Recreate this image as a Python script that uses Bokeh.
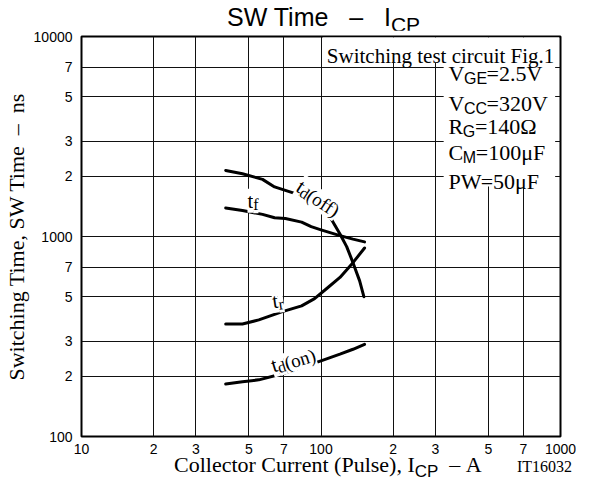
import math
from bokeh.plotting import figure
from bokeh.models import FixedTicker, Label, BoxAnnotation, Div
from bokeh.layouts import column
from bokeh.embed import file_html
from bokeh.resources import INLINE

# ---------------- data ----------------
td_off_x = [40, 47, 57, 64, 71, 83, 94, 101, 110, 120, 128, 136, 145, 151]
td_off_y = [2140, 2060, 1930, 1770, 1700, 1600, 1480, 1380, 1230, 1030, 890, 740, 600, 500]
tf_x = [40, 47, 57, 64, 71, 83, 91, 100, 120, 136, 152]
tf_y = [1390, 1350, 1290, 1240, 1230, 1180, 1120, 1080, 1010, 970, 940]
tr_x = [40, 47, 55, 69, 83, 94, 106, 120, 136, 152]
tr_y = [365, 365, 383, 421, 450, 489, 551, 624, 740, 876]
td_on_x = [40, 47, 55, 69, 83, 100, 120, 136, 152]
td_on_y = [183, 188, 192, 206, 222, 239, 258, 273, 289]

x_ticks = [10, 20, 30, 50, 70, 100, 200, 300, 500, 700, 1000]
x_tick_labels = ["10", "2", "3", "5", "7", "100", "2", "3", "5", "7", "1000"]
y_ticks = [100, 200, 300, 500, 700, 1000, 2000, 3000, 5000, 7000, 10000]
y_tick_labels = ["100", "2", "3", "5", "7", "1000", "2", "3", "5", "7", "10000"]

cond_main = ["V", "V", "R", "C", "PW"]
cond_sub = ["GE", "CC", "G", "M", ""]
cond_rest = ["=2.5V", "=320V", "=140Ω", "=100μF", "=50μF"]

title_main = "SW Time\u00a0\u00a0\u00a0–\u00a0\u00a0\u00a0I"
title_sub = "CP"
xlabel_main = "Collector Current (Pulse), I"
xlabel_sub = "CP"
xlabel_tail = "\u00a0\u00a0–\u00a0A"
fig_code = "IT16032"
ylabel = "Switching Time, SW Time\u00a0\u00a0–\u00a0\u00a0ns"

SERIF = "Liberation Serif"
SANS = "Liberation Sans"

# ---------------- figure ----------------
p = figure(width=576, height=428, x_axis_type="log", y_axis_type="log",
           x_range=(10, 1000), y_range=(100, 10000),
           output_backend="svg", toolbar_location=None,
           min_border_left=81, min_border_right=16,
           min_border_top=6, min_border_bottom=22)
p.background_fill_color = "white"
p.border_fill_color = "white"
p.outline_line_color = "black"
p.outline_line_width = 2

p.xaxis.ticker = FixedTicker(ticks=x_ticks)
p.yaxis.ticker = FixedTicker(ticks=y_ticks)
p.xgrid.ticker = FixedTicker(ticks=x_ticks)
p.ygrid.ticker = FixedTicker(ticks=y_ticks)
p.xaxis.major_label_overrides = dict(zip(x_ticks, x_tick_labels))
p.yaxis.major_label_overrides = dict(zip(y_ticks, y_tick_labels))
p.grid.grid_line_color = "#111111"
p.grid.grid_line_width = 1
p.axis.axis_line_color = None
p.axis.major_tick_line_color = None
p.axis.minor_tick_line_color = None
p.axis.major_tick_out = 0
p.axis.major_tick_in = 0
p.axis.minor_tick_out = 0
p.axis.minor_tick_in = 0
p.axis.major_label_text_font = SANS
p.axis.major_label_text_font_size = "14px"
p.axis.major_label_text_color = "black"
p.xaxis.major_label_standoff = 7
p.yaxis.major_label_standoff = 9

p.yaxis.axis_label = ylabel
p.yaxis.axis_label_text_font = SERIF
p.yaxis.axis_label_text_font_size = "22px"
p.yaxis.axis_label_text_font_style = "normal"
p.yaxis.axis_label_text_color = "black"
p.yaxis.axis_label_standoff = 2

for xs, ys in [(td_off_x, td_off_y), (tf_x, tf_y), (tr_x, tr_y), (td_on_x, td_on_y)]:
    p.line(xs, ys, line_color="black", line_width=3, line_join="round", line_cap="round")

# ---------------- helpers for text placement inside the frame ----------------
def dx(px):
    return 10 ** (1 + (px - 81) / 246)

def dy(py):
    return 10 ** (4 - (py - 36) / 204)

SERIF_W = {' ': 250, '(': 333, ')': 333, ',': 250, '.': 250, '=': 564, '–': 500, '-': 333,
           'A': 722, 'C': 667, 'F': 556, 'G': 722, 'I': 333, 'M': 889, 'P': 556, 'R': 667,
           'S': 556, 'T': 611, 'V': 722, 'W': 944, 'a': 444, 'c': 444, 'd': 500, 'e': 444,
           'f': 333, 'g': 500, 'h': 500, 'i': 278, 'l': 278, 'm': 778, 'n': 500, 'o': 500,
           'r': 333, 's': 389, 't': 278, 'u': 500, 'w': 722, 'Ω': 768, 'μ': 576}
SANS_W = {' ': 278, '–': 556, 'C': 722, 'E': 667, 'G': 778, 'I': 278, 'M': 833, 'P': 667,
          'S': 667, 'T': 611, 'W': 944, 'e': 556, 'i': 222, 'm': 833}

def text_width(s, font, size):
    table = SERIF_W if font == SERIF else SANS_W
    return sum(table.get(c, 500 if c.isdigit() else 556) for c in s) / 1000.0 * size

def add_rich(parts, x0, y0, deg=0.0, bg=False):
    a = math.radians(deg)
    ux, uy = math.cos(a), -math.sin(a)
    vx, vy = math.sin(a), math.cos(a)
    adv = 0.0
    for text, font, size, drop in parts:
        if text:
            px = x0 + adv * ux + drop * vx
            py = y0 + adv * uy + drop * vy
            kw = dict(background_fill_color="white") if bg else {}
            p.add_layout(Label(x=dx(px), y=dy(py), text=text, text_font=font,
                               text_font_size=f"{size}px", text_color="black",
                               angle=a, text_align="left", text_baseline="alphabetic", **kw))
            adv += text_width(text, font, size)

# white areas behind the condition box
p.add_layout(BoxAnnotation(left=dx(329), right=dx(571.5), top=dy(37), bottom=dy(63),
                           fill_color="white", fill_alpha=1.0, line_color=None))
p.add_layout(BoxAnnotation(left=dx(453), right=dx(567.5), top=dy(63), bottom=dy(189),
                           fill_color="white", fill_alpha=1.0, line_color=None))

# condition texts
add_rich([("Switching test circuit Fig.1", SERIF, 21, 0)], 333, 56)
row_base = [74, 104, 128, 154, 184]
for m, s, r, yb in zip(cond_main, cond_sub, cond_rest, row_base):
    add_rich([(m, SERIF, 22, 0), (s, SANS, 16, 5), (r, SERIF, 22, 0)], 458, yb)

# curve labels
add_rich([("t", SERIF, 21, 0), ("f", SERIF, 16, 4)], 251.5, 203.5, 0, bg=True)
add_rich([("t", SERIF, 21, 0), ("d", SERIF, 16, 4), ("(off)", SERIF, 19, 2)], 304, 187, -33, bg=True)
add_rich([("t", SERIF, 21, 0), ("r", SERIF, 16, 4)], 277, 306, 8, bg=True)
add_rich([("t", SERIF, 21, 0), ("d", SERIF, 16, 4), ("(on)", SERIF, 19, 2)], 276, 372, 17, bg=True)

# ---------------- title and x-axis label (HTML, for subscripts) ----------------
title_html = (
    '<div style="white-space:nowrap;font-family:\'Liberation Sans\';font-size:25px;'
    'line-height:18px;padding-top:8px;padding-left:227px;color:black;">'
    f'{title_main}<span style="font-size:21px;position:relative;top:5.7px;">{title_sub}</span></div>'
)
xlabel_html = (
    '<div style="position:relative;white-space:nowrap;font-family:\'Liberation Serif\';'
    'font-size:22px;line-height:13px;padding-left:174px;color:black;">'
    f'{xlabel_main}<span style="font-family:\'Liberation Sans\';font-size:17px;'
    f'position:relative;top:5px;">{xlabel_sub}</span>{xlabel_tail}'
    '<span style="position:absolute;left:517px;top:2px;font-size:16px;line-height:13px;">'
    f'{fig_code}</span></div>'
)
title_div = Div(text=title_html, width=576, height=30, margin=0)
xlabel_div = Div(text=xlabel_html, width=576, height=19, margin=0)

layout = column(title_div, p, xlabel_div, spacing=0)

open("out.html", "w").write(file_html(layout, INLINE))
